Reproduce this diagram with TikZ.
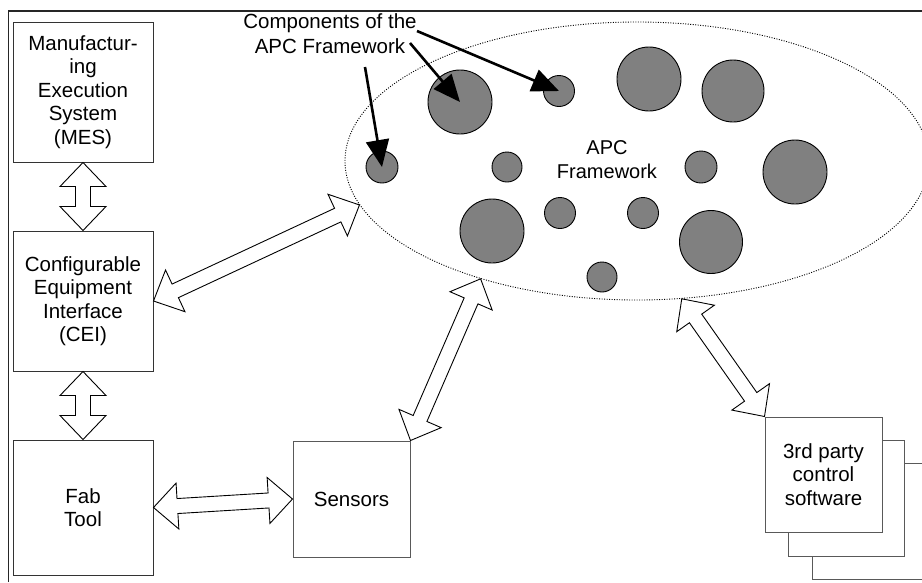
\documentclass[tikz,border=0pt]{standalone}
\usepackage{fontspec}
\setmainfont{Liberation Sans}
\usetikzlibrary{shapes.geometric,arrows.meta,calc}

\tikzset{
  box/.style={draw=black!80, line width=1pt, fill=white, rectangle, inner sep=0pt, align=center,
              font=\fontsize{20.5}{23.5}\selectfont},
  graybox/.style={box, draw=black!65},
  blockarr/.style={draw=black, line width=0.9pt, fill=white, line join=miter},
  compcircle/.style={circle, draw=black, line width=0.9pt, fill=black!50, inner sep=0pt},
  callout/.style={line width=2.6pt, -{Triangle[length=27pt,width=23pt]}},
  frameline/.style={line width=1.8pt, black!85},
  apcellipse/.style={ellipse, draw=black, line width=0.9pt, dash pattern=on 1pt off 1.5pt,
              inner sep=0pt},
  lbl/.style={align=center, inner sep=0pt, font=\fontsize{20.5}{25}\selectfont}
}

\newcommand\blockarrow[2]{%
  \path let \p1=($(#2)-(#1)$) in \pgfextra{%
    \pgfmathsetmacro\tmpL{veclen(\x1,\y1)}%
    \pgfmathsetmacro\tmpM{\tmpL-24}%
    \pgfmathsetmacro\tmpA{atan2(\y1,\x1)}%
    \xdef\baL{\tmpL}\xdef\baM{\tmpM}\xdef\baA{\tmpA}};
  \begin{scope}[shift={(#1)},rotate=\baA]
    \draw[blockarr] (0pt,0pt) -- (24pt,23pt) -- (24pt,7.5pt) -- (\baM pt,7.5pt) -- (\baM pt,23pt)
      -- (\baL pt,0pt) -- (\baM pt,-23pt) -- (\baM pt,-7.5pt) -- (24pt,-7.5pt) -- (24pt,-23pt) -- cycle;
  \end{scope}}

\begin{document}
\begin{tikzpicture}[x=1pt,y=-1pt]
\useasboundingbox (0,0) rectangle (922,582);
\fill[white] (0,0) rectangle (922,582);

% frame
\draw[frameline] (8.5,582) -- (8.5,10.7) -- (922,10.7);

% APC framework ellipse
\node[apcellipse, minimum width=584pt, minimum height=278pt] (apc) at (637,161) {};
\node[align=center, inner sep=0pt, font=\fontsize{20}{24}\selectfont] (apctext) at (607,160) {APC\\Framework};

% component circles
\foreach \n/\cx/\cy/\d in {1/460/102/64, 2/559/91/31, 3/649/79/64, 4/733/91/62,
    5/382/167/32, 6/507/167/30, 7/701/167/32, 8/795/172/64,
    9/492/231/64, 10/560/213/31, 11/643/213/31, 12/711/242/63, 13/602/277/30}
  \node[compcircle, minimum size=\d pt] (c\n) at (\cx,\cy) {};

% left column boxes
\node[box, minimum width=140pt, minimum height=140pt] (mes) at (83,92)
  {Manufactur-\\ing\\Execution\\System\\(MES)};
\node[box, minimum width=140pt, minimum height=140pt] (cei) at (83,301)
  {Configurable\\Equipment\\Interface\\(CEI)};
\node[box, minimum width=140pt, minimum height=135pt] (fab) at (83,507.5)
  {Fab\\Tool};

% sensors
\node[graybox, minimum width=117pt, minimum height=116pt] (sens) at (351.5,499) {Sensors};

% 3rd party stack
\begin{scope}
  \clip (0,0) rectangle (922,582);
  \node[graybox, minimum width=117pt, minimum height=116pt] (back2) at (870.5,521) {};
\end{scope}
\node[graybox, minimum width=116pt, minimum height=116pt] (back1) at (846,498) {};
\node[graybox, minimum width=117pt, minimum height=115pt] (third) at (823.5,474.5)
  {3rd party\\control\\software};

% points on the ellipse
\coordinate (e1) at (apc.189);
\coordinate (e2) at (apc.217);
\coordinate (e3) at (apc.288);

% block arrows
\blockarrow{mes.south}{cei.north}
\blockarrow{cei.south}{fab.north}
\blockarrow{cei.east}{e1}
\blockarrow{fab.east}{sens.west}
\blockarrow{sens.north east}{e2}
\blockarrow{third.north west}{e3}

% callout label and arrows
\node[lbl] (comp) at (330,34) {Components of the\\APC Framework};
\coordinate (a1) at (417,31);
\coordinate (a2) at (410,43);
\coordinate (a3) at (365,67);
\draw[callout] (a1) -- (c2.center);
\draw[callout] (a2) -- (c1.center);
\draw[callout] (a3) -- (c5.center);
\end{tikzpicture}
\end{document}
